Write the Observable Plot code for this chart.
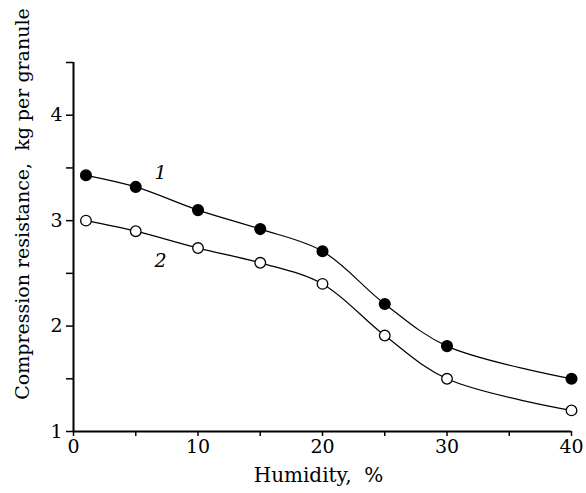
<!DOCTYPE html>
<html>
<head>
<meta charset="utf-8">
<script src="https://cdn.jsdelivr.net/npm/d3@7"></script>
<script src="https://cdn.jsdelivr.net/npm/@observablehq/plot@0.6"></script>
<style>
  html, body { margin: 0; padding: 0; background: #fff; }
  svg { display: block; }
</style>
</head>
<body>
<div id="chart"></div>
<script>
const humidity = [1, 5, 10, 15, 20, 25, 30, 40];
const series1 = [3.43, 3.32, 3.10, 2.92, 2.71, 2.21, 1.81, 1.50];
const series2 = [3.00, 2.90, 2.74, 2.60, 2.40, 1.91, 1.50, 1.20];
const seriesNames = ["1", "2"];
const xTicks = [0, 5, 10, 15, 20, 25, 30, 35, 40];
const yTicks = [1, 1.5, 2, 2.5, 3, 3.5, 4, 4.5];
const xLabel = "Humidity,  %";
const yLabel = "Compression resistance,  kg per granule";

const data = [
  ...humidity.map((h, i) => ({x: h, y: series1[i], s: seriesNames[0]})),
  ...humidity.map((h, i) => ({x: h, y: series2[i], s: seriesNames[1]}))
];
const labels = [
  {x: 7.0, y: 3.45, t: seriesNames[0]},
  {x: 7.0, y: 2.62, t: seriesNames[1]}
];

const font = "'DejaVu Serif', 'Liberation Serif', serif";

const chart = Plot.plot({
  width: 586,
  height: 493,
  marginLeft: 73,
  marginRight: 15,
  marginTop: 62,
  marginBottom: 62,
  style: {fontFamily: font, fontSize: "19px", color: "#000", background: "#fff"},
  x: {domain: [0, 40]},
  y: {domain: [1, 4.5]},
  marks: [
    Plot.axisX({
      ticks: xTicks,
      tickFormat: d => d % 10 === 0 ? String(d) : "",
      tickSize: 5,
      tickPadding: 3,
      strokeWidth: 1.5,
      label: null,
      fontSize: 19
    }),
    Plot.axisY({
      ticks: yTicks,
      tickFormat: d => Number.isInteger(d) && d < 4.5 ? String(d) : "",
      tickSize: 7,
      tickPadding: 4,
      strokeWidth: 1.5,
      label: null,
      fontSize: 19
    }),
    Plot.ruleY([1], {strokeWidth: 2}),
    Plot.ruleX([0], {strokeWidth: 2}),
    Plot.line(data, {x: "x", y: "y", z: "s", curve: "catmull-rom", stroke: "#000", strokeWidth: 1.2}),
    Plot.dot(data.filter(d => d.s === seriesNames[0]), {x: "x", y: "y", r: 5.3, fill: "#000", stroke: "#000"}),
    Plot.dot(data.filter(d => d.s === seriesNames[1]), {x: "x", y: "y", r: 5.3, fill: "#fff", stroke: "#000", strokeWidth: 1.3}),
    Plot.text(labels, {x: "x", y: "y", text: "t", fontStyle: "italic", fontSize: 19}),
    Plot.text([xLabel], {frameAnchor: "bottom", dy: 50, dx: -4, fontSize: 20, letterSpacing: "0.8px"}),
    Plot.text([yLabel], {frameAnchor: "left", textAnchor: "middle", rotate: -90, dx: -51, dy: -43, fontSize: 19, letterSpacing: "0.3px"})
  ]
});
document.getElementById("chart").appendChild(chart);
</script>
</body>
</html>
